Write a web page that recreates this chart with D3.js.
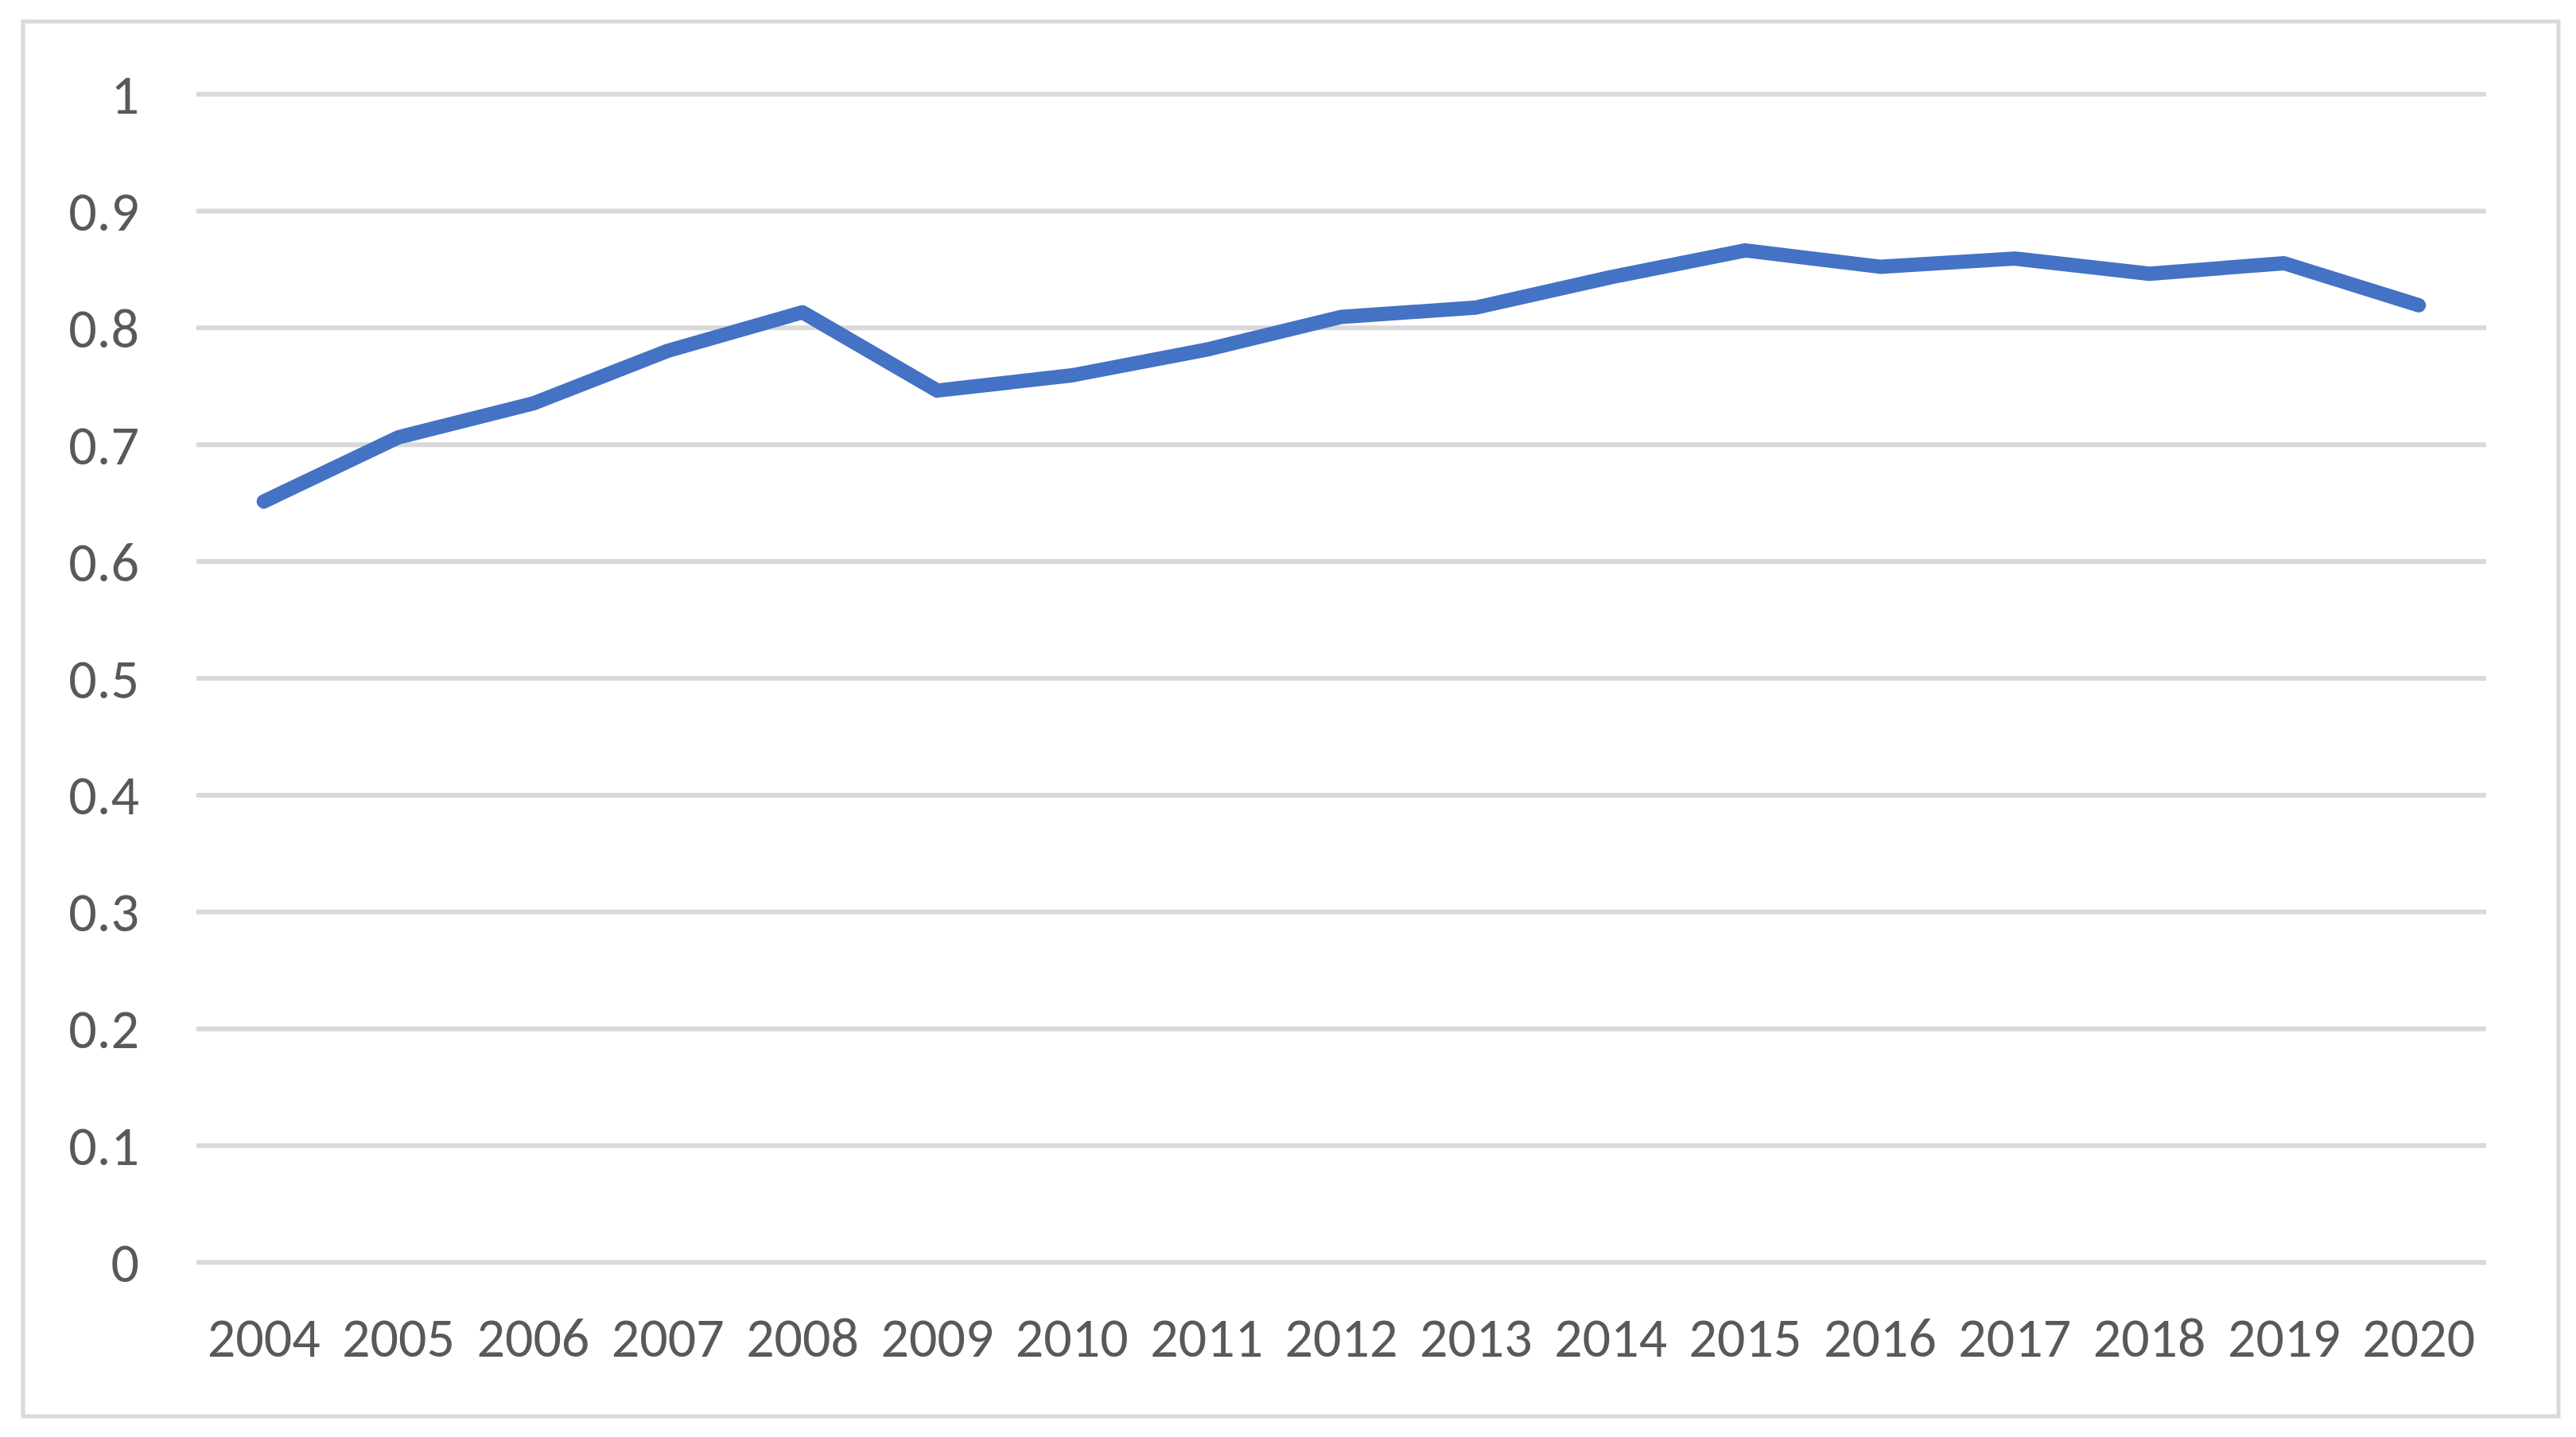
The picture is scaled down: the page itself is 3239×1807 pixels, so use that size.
<!DOCTYPE html>
<html>
<head>
<meta charset="utf-8">
<script src="https://cdn.jsdelivr.net/npm/d3@7"></script>
<style>
  body { margin: 0; background: #fff; }
  svg { display: block; }
</style>
</head>
<body>
<script>
// data
var years = ["2004","2005","2006","2007","2008","2009","2010","2011","2012",
             "2013","2014","2015","2016","2017","2018","2019","2020"];
var values = [0.651, 0.706, 0.735, 0.780, 0.813, 0.746, 0.759, 0.781, 0.809,
              0.817, 0.843, 0.866, 0.852, 0.859, 0.846, 0.855, 0.819];
var yTicks = [0, 0.1, 0.2, 0.3, 0.4, 0.5, 0.6, 0.7, 0.8, 0.9, 1];

var W = 3239, H = 1807;
var margin = {top: 118, right: 113, bottom: 220, left: 247},
    width = W - margin.left - margin.right,
    height = H - margin.top - margin.bottom;

var fontFamily = "Carlito, Calibri, Lato, sans-serif";

var root = d3.select("body").append("svg")
    .attr("width", W)
    .attr("height", H);

// outer chart border
root.append("rect")
    .attr("x", 29).attr("y", 27)
    .attr("width", 3217 - 29).attr("height", 1781 - 27)
    .attr("fill", "#fff")
    .attr("stroke", "#d9d9d9")
    .attr("stroke-width", 5);

var svg = root.append("g")
    .attr("transform", "translate(" + margin.left + "," + margin.top + ")");

var x = d3.scaleBand()
    .domain(years)
    .range([0, width]);

var y = d3.scaleLinear()
    .domain([0, 1])
    .range([height, 0]);

// axis formatting

var yAxis = d3.axisLeft(y)
    .tickValues(yTicks)
    .tickSize(-width)
    .tickFormat(function(d) { return d3.format("")(+d.toFixed(1)); });

var xAxis = d3.axisBottom(x)
    .tickSize(0);

function customYAxis(g) {
    g.call(yAxis);
    g.select(".domain").remove();
    g.selectAll(".tick line")
        .attr("stroke", "#d9d9d9")
        .attr("stroke-width", 6);
    g.selectAll(".tick text")
        .attr("x", -72)
        .attr("dy", "0.35em")
        .attr("font-family", fontFamily)
        .attr("font-size", 70)
        .attr("fill", "#595959");
}

function customXAxis(g) {
    g.call(xAxis);
    g.select(".domain").remove();
    g.selectAll(".tick text")
        .attr("y", 0)
        .attr("dy", 0)
        .attr("transform", "translate(0," + (1706 - margin.top - height) + ")")
        .attr("font-family", fontFamily)
        .attr("font-size", 70)
        .attr("fill", "#595959");
}

svg.append("g").call(customYAxis);
svg.append("g")
    .attr("transform", "translate(0," + height + ")")
    .call(customXAxis);

var valueline = d3.line()
    .x(function(d, i) { return x(years[i]) + x.bandwidth() / 2; })
    .y(function(d) { return y(d); });

svg.append("path")
    .datum(values)
    .attr("fill", "none")
    .attr("stroke", "#4472c4")
    .attr("stroke-width", 18)
    .attr("stroke-linejoin", "round")
    .attr("stroke-linecap", "round")
    .attr("d", valueline);
</script>
</body>
</html>
